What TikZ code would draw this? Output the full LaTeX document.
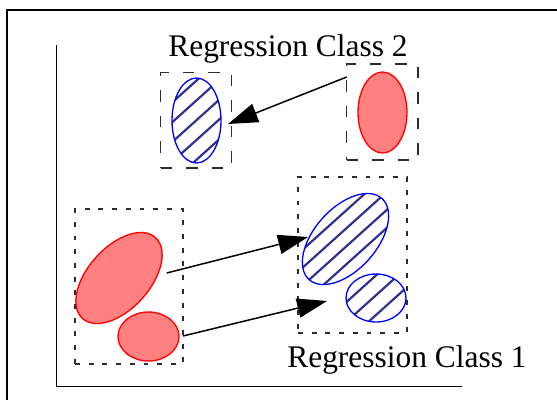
\documentclass[tikz,border=0pt]{standalone}
\usepackage{fontspec}
\setmainfont{Liberation Serif}
\usetikzlibrary{arrows.meta}
\definecolor{blobred}{RGB}{255,128,128}
\definecolor{hatchblue}{RGB}{50,50,140}
\definecolor{boxgray}{RGB}{45,45,45}

\begin{document}
\begin{tikzpicture}[x=0.02cm, y=-0.02cm,
    longdash/.style={draw=boxgray, line width=0.8pt, dash pattern=on 6.5pt off 8pt, inner sep=0pt},
    shortdash/.style={draw=boxgray, line width=0.75pt, dash pattern=on 2.8pt off 5pt, inner sep=0pt},
    redblob/.style={draw=red, fill=blobred, line width=0.75pt},
    blueblob/.style={draw=blue, line width=0.75pt},
    hatch/.style={draw=hatchblue, line width=1.25pt},
    link/.style={-{Triangle[length=17pt, width=11pt]}, line width=0.85pt},
    classtext/.style={font=\fontsize{17.9pt}{20pt}\selectfont, inner sep=0pt}]
        \useasboundingbox (0,0) rectangle (557,400);

        % cadre et axes
        \draw[line width=1.1pt] (557,10.3) -- (6.7,10.3) -- (6.7,400);
        \draw[line width=0.85pt] (56.7,45) -- (56.7,386.7) -- (461.7,386.7);

        % boites
        \node[longdash, minimum width=1.42cm, minimum height=1.906cm] (tgtbox2) at (196.2,120.3) {};
        \node[longdash, minimum width=1.426cm, minimum height=1.92cm] (srcbox2) at (382.3,112) {};
        \node[shortdash, minimum width=2.16cm, minimum height=3.1cm] (srcbox1) at (129,286.5) {};
        \node[shortdash, minimum width=2.18cm, minimum height=3.12cm] (tgtbox1) at (352.5,255) {};

        % ellipses rouges
        \coordinate (red2) at (382.5,112.5);
        \coordinate (bigred) at (119,278);
        \coordinate (smallred) at (148.5,336.5);
        \fill[redblob] (red2) ellipse [x radius=24.5, y radius=40.5];
        \fill[redblob, rotate around={48:(bigred)}] (bigred) ellipse [x radius=54.5, y radius=31];
        \fill[redblob] (smallred) ellipse [x radius=30.5, y radius=24.5];

        % ellipses bleues hachurees
        \coordinate (blue2) at (196.5,120.5);
        \coordinate (bigblue) at (345.5,239);
        \coordinate (smallblue) at (376,298);
        \begin{scope}
          \clip (blue2) ellipse [x radius=24.5, y radius=42.5];
          \foreach \c in {0,22,...,900} \draw[hatch] (\c,0) -- ++(-400,360);
        \end{scope}
        \begin{scope}
          \clip[rotate around={48:(bigblue)}] (bigblue) ellipse [x radius=54.5, y radius=31];
          \foreach \c in {0,20,...,900} \draw[hatch] (\c,0) -- ++(-400,360);
        \end{scope}
        \begin{scope}
          \clip (smallblue) ellipse [x radius=30, y radius=24];
          \foreach \c in {0,22,...,900} \draw[hatch] (\c,0) -- ++(-400,360);
        \end{scope}
        \draw[blueblob] (blue2) ellipse [x radius=24.5, y radius=42.5];
        \draw[blueblob, rotate around={48:(bigblue)}] (bigblue) ellipse [x radius=54.5, y radius=31];
        \draw[blueblob] (smallblue) ellipse [x radius=30, y radius=24];

        % fleches
        \coordinate (a2s) at (346.7,77);
        \coordinate (a2e) at (228,124);
        \coordinate (a1s) at (166.7,273);
        \coordinate (a1e) at (308,237);
        \coordinate (b1s) at (183,336);
        \coordinate (b1e) at (327,301);
        \draw[link] (a2s) -- (a2e);
        \draw[link] (a1s) -- (a1e);
        \draw[link] (b1s) -- (b1e);

        % textes
        \node[classtext, anchor=base] (class2) at (288,56) {Regression Class 2};
        \node[classtext, anchor=base] (class1) at (407,367) {Regression Class 1};
      \end{tikzpicture}
\end{document}
